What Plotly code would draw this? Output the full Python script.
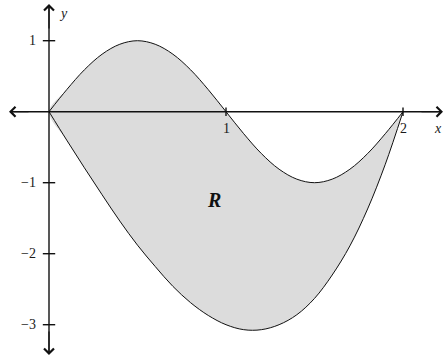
import plotly.graph_objects as go

# curve values, x from 0 to 2 in steps of 0.1
x_vals = [0.0, 0.1, 0.2, 0.3, 0.4, 0.5, 0.6, 0.7, 0.8, 0.9, 1.0,
          1.1, 1.2, 1.3, 1.4, 1.5, 1.6, 1.7, 1.8, 1.9, 2.0]
upper_y = [0, 0.31, 0.59, 0.81, 0.95, 1.0, 0.95, 0.81, 0.59, 0.31, 0,
           -0.31, -0.59, -0.81, -0.95, -1.0, -0.95, -0.81, -0.59, -0.31, 0]
lower_y = [0, -0.40, -0.79, -1.17, -1.54, -1.88, -2.18, -2.46, -2.69, -2.87, -3.0,
           -3.07, -3.07, -3.0, -2.86, -2.63, -2.30, -1.89, -1.37, -0.74, 0]

x_ticks = [1, 2]
x_tick_labels = ['1', '2']
y_ticks = [1, -1, -2, -3]
y_tick_labels = ['1', '\u22121', '\u22122', '\u22123']

W, H = 445, 360
X0, Y0, SX, SY = 49, 111.7, 177, 71   # pixel of origin, pixels per unit


def px(p):
    return (p - X0) / SX


def py(p):
    return (Y0 - p) / SY


x_range = [px(0), px(W)]
y_range = [py(H), py(0)]
serif = 'Liberation Serif, Times New Roman, serif'
ax_col = '#111111'
txt_col = '#1a1a1a'

fig = go.Figure()

# shaded region R
fig.add_trace(go.Scatter(
    x=x_vals + x_vals[::-1],
    y=upper_y + lower_y[::-1],
    fill='toself', fillcolor='#dcdcdc',
    line=dict(width=0, shape='spline'), mode='lines',
    hoverinfo='skip', showlegend=False))

for ys in (upper_y, lower_y):
    fig.add_trace(go.Scatter(
        x=x_vals, y=ys, mode='lines',
        line=dict(color='#111111', width=1.0, shape='spline'),
        showlegend=False))

# axes
fig.add_shape(type='line', x0=px(11), x1=px(441), y0=0, y1=0,
              line=dict(color=ax_col, width=1.4))
fig.add_shape(type='line', x0=0, x1=0, y0=py(353), y1=py(6),
              line=dict(color=ax_col, width=1.4))

arrows = [
    (px(443), 0, px(420), 0),
    (px(9), 0, px(30), 0),
    (0, py(4), 0, py(30)),
    (0, py(355), 0, py(330)),
]
for x, y, axx, ayy in arrows:
    fig.add_annotation(x=x, y=y, ax=axx, ay=ayy, axref='x', ayref='y',
                       xref='x', yref='y', text='', showarrow=True,
                       arrowhead=4, arrowsize=1.6, arrowwidth=1.2,
                       arrowcolor=ax_col)

for t in x_ticks:
    fig.add_shape(type='line', x0=t, x1=t, y0=-0.06, y1=0.06,
                  line=dict(color=ax_col, width=1.4))
for t in y_ticks:
    fig.add_shape(type='line', x0=-0.035, x1=0.035, y0=t, y1=t,
                  line=dict(color=ax_col, width=1.4))

for t, lab in zip(x_ticks, x_tick_labels):
    fig.add_annotation(x=t, y=-0.1, text=lab, showarrow=False, yanchor='top',
                       font=dict(family=serif, size=14, color=txt_col))
for t, lab in zip(y_ticks, y_tick_labels):
    fig.add_annotation(x=-0.06, y=t, text=lab, showarrow=False, xanchor='right',
                       font=dict(family=serif, size=14, color=txt_col))

fig.add_annotation(x=px(438), y=py(128), text='<i>x</i>', showarrow=False,
                   font=dict(family=serif, size=14, color=txt_col))
fig.add_annotation(x=px(63), y=py(13), text='<i>y</i>', showarrow=False,
                   font=dict(family=serif, size=14, color=txt_col))
fig.add_annotation(x=px(214), y=py(200), text='<b><i>R</i></b>', showarrow=False,
                   font=dict(family=serif, size=20, color='#111111'))

fig.update_layout(
    width=W, height=H,
    margin=dict(l=0, r=0, t=0, b=0),
    paper_bgcolor='white', plot_bgcolor='white',
    xaxis=dict(range=x_range, visible=False, fixedrange=True),
    yaxis=dict(range=y_range, visible=False, fixedrange=True),
)

fig.write_html("out.html", config={'displayModeBar': False},
               post_script="document.body.style.margin='0px';")
